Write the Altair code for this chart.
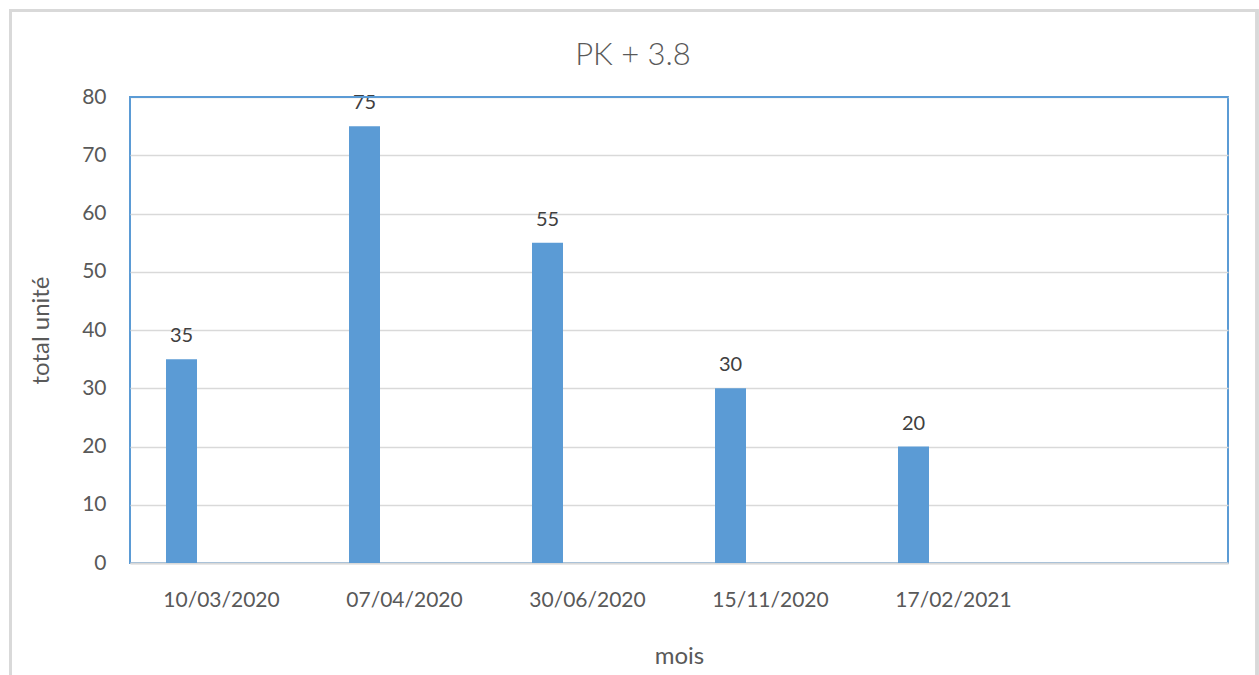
import altair as alt
import pandas as pd

dates = ["10/03/2020", "07/04/2020", "30/06/2020", "15/11/2020", "17/02/2021"]
values = [35, 75, 55, 30, 20]
domain = dates + [" "]  # sixth, empty category slot
title_text = "PK + 3.8"

df = pd.DataFrame({"mois": dates, "total": values})

FONT = "Lato"
W, H = 1098, 466
BLUE = "#5b9bd5"

x = alt.X("mois:N", scale=alt.Scale(domain=domain, paddingInner=0, paddingOuter=0),
          sort=None,
          axis=alt.Axis(title="mois", labelAngle=0, labelFontSize=21, labelColor="#595959",
                        labelFont=FONT, labelPadding=26, ticks=False,
                        domainColor="#d9d9d9", domainWidth=2,
                        titleFontSize=24, titleFont=FONT, titleColor="#595959",
                        titleFontWeight="normal", titlePadding=34))
y = alt.Y("total:Q", scale=alt.Scale(domain=[0, 80]),
          axis=alt.Axis(title="total unité", values=list(range(0, 81, 10)), labelFontSize=21,
                        labelColor="#595959", labelFont=FONT, labelPadding=24, ticks=False,
                        domain=False, gridColor="#d9d9d9", gridWidth=1.5,
                        titleFontSize=24, titleFont=FONT, titleColor="#595959",
                        titleFontWeight="normal", titlePadding=28))

bars = alt.Chart(df).mark_bar(width=31, xOffset=-40, color=BLUE).encode(x=x, y=y)
labels = alt.Chart(df).mark_text(xOffset=-40, dy=-13, baseline="bottom", fontSize=20,
                                 font=FONT, fontWeight="normal", color="#404040").encode(
    x=alt.X("mois:N", sort=None, scale=alt.Scale(domain=domain)), y="total:Q", text="total:Q")

frame = alt.Chart(df).mark_rect(fill=None, stroke="#d9d9d9", strokeWidth=3, clip=False).encode(
    x=alt.value(-119.5), x2=alt.value(1127), y=alt.value(-86.5), y2=alt.value(700))

top_edge = alt.Chart(df).mark_rule(color=BLUE, strokeWidth=2).encode(
    x=alt.value(0), x2=alt.value(W), y=alt.value(0))

title = alt.Chart(pd.DataFrame({"t": [title_text]})).mark_text(
    fontSize=31, font=FONT, fontWeight=300, color="#595959",
    baseline="alphabetic", align="center", clip=False).encode(
    x=alt.value(503), y=alt.value(-32), text="t:N")

chart = alt.layer(frame, bars, labels, top_edge, title).properties(
    width=W, height=H,
    padding={"left": 130, "top": 97, "right": 31, "bottom": 112},
    autosize=alt.AutoSizeParams(type="none"),
    background="white",
).configure_view(stroke=BLUE, strokeWidth=2)

chart.save("out.html", embed_options={"renderer": "svg", "actions": False})
